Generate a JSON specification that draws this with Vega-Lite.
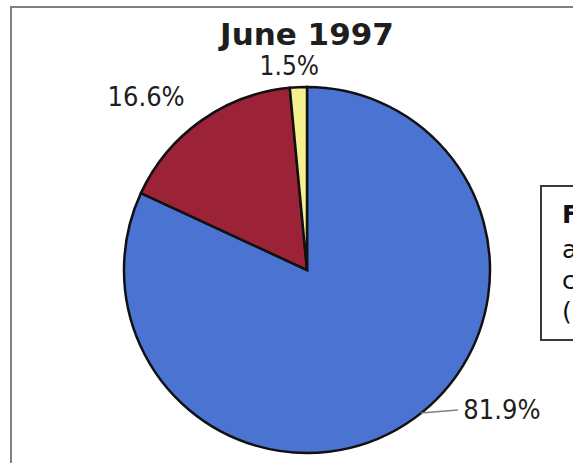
{
  "$schema": "https://vega.github.io/schema/vega-lite/v6.json",
  "width": 592,
  "height": 526,
  "autosize": "none",
  "padding": {"left": 11, "top": 7, "right": 0, "bottom": 0},
  "background": "white",
  "config": {"view": {"stroke": "#808080", "strokeWidth": 2}},
  "title": {
    "text": "June 1997",
    "font": "DejaVu Sans",
    "fontSize": 31,
    "fontWeight": "bold",
    "color": "#1e1e1e",
    "anchor": "middle",
    "frame": "group",
    "baseline": "alphabetic",
    "offset": -69
  },
  "datasets": {
    "shares": [
      {"category": "A", "share": 81.9, "label": "81.9%", "idx": 1},
      {"category": "B", "share": 16.6, "label": "16.6%", "idx": 2},
      {"category": "C", "share": 1.5, "label": "1.5%", "idx": 3}
    ],
    "note": [
      {"first": "F", "rest": ["a", "c", "("]}
    ]
  },
  "data": {"name": "shares"},
  "layer": [
    {
      "mark": {"type": "arc", "radius": 183, "stroke": "#111111", "strokeWidth": 2.5},
      "encoding": {
        "theta": {"field": "share", "type": "quantitative", "stack": true},
        "order": {"field": "idx", "type": "quantitative"},
        "color": {
          "field": "category",
          "type": "nominal",
          "scale": {"domain": ["A", "B", "C"], "range": ["#4b73d1", "#9c2337", "#f6f08e"]},
          "legend": null
        }
      }
    },
    {
      "mark": {"type": "text", "radius": 167, "dx": 105, "dy": 0, "font": "DejaVu Sans Condensed", "fontSize": 27, "color": "#1e1e1e", "align": "center", "baseline": "middle"},
      "encoding": {
        "theta": {"field": "share", "type": "quantitative", "stack": true},
        "order": {"field": "idx", "type": "quantitative"},
        "text": {"condition": {"test": "datum.category === 'A'", "field": "label"}, "value": ""}
      }
    },
    {
      "mark": {"type": "text", "radius": 211, "dx": -39, "dy": 0, "font": "DejaVu Sans Condensed", "fontSize": 27, "color": "#1e1e1e", "align": "center", "baseline": "middle"},
      "encoding": {
        "theta": {"field": "share", "type": "quantitative", "stack": true},
        "order": {"field": "idx", "type": "quantitative"},
        "text": {"condition": {"test": "datum.category === 'B'", "field": "label"}, "value": ""}
      }
    },
    {
      "mark": {"type": "text", "radius": 206, "dx": -8, "dy": 3, "font": "DejaVu Sans Condensed", "fontSize": 26, "color": "#1e1e1e", "align": "center", "baseline": "middle"},
      "encoding": {
        "theta": {"field": "share", "type": "quantitative", "stack": true},
        "order": {"field": "idx", "type": "quantitative"},
        "text": {"condition": {"test": "datum.category === 'C'", "field": "label"}, "value": ""}
      }
    },
    {
      "data": {"name": "note"},
      "mark": {"type": "rule", "stroke": "#808080", "strokeWidth": 1.5},
      "encoding": {
        "x": {"value": 410},
        "x2": {"value": 447},
        "y": {"value": 406},
        "y2": {"value": 403}
      }
    },
    {
      "data": {"name": "note"},
      "mark": {"type": "rect", "fill": null, "stroke": "#3a3a3a", "strokeWidth": 2},
      "encoding": {
        "x": {"value": 530},
        "x2": {"value": 640},
        "y": {"value": 179},
        "y2": {"value": 333}
      }
    },
    {
      "data": {"name": "note"},
      "mark": {"type": "text", "font": "DejaVu Sans", "fontSize": 25, "fontWeight": "bold", "color": "#111111", "align": "left", "baseline": "alphabetic"},
      "encoding": {
        "x": {"value": 551},
        "y": {"value": 216},
        "text": {"field": "first"}
      }
    },
    {
      "data": {"name": "note"},
      "mark": {"type": "text", "font": "DejaVu Sans", "fontSize": 25, "color": "#111111", "align": "left", "baseline": "alphabetic", "lineHeight": 31},
      "encoding": {
        "x": {"value": 551},
        "y": {"value": 251},
        "text": {"field": "rest"}
      }
    }
  ]
}
